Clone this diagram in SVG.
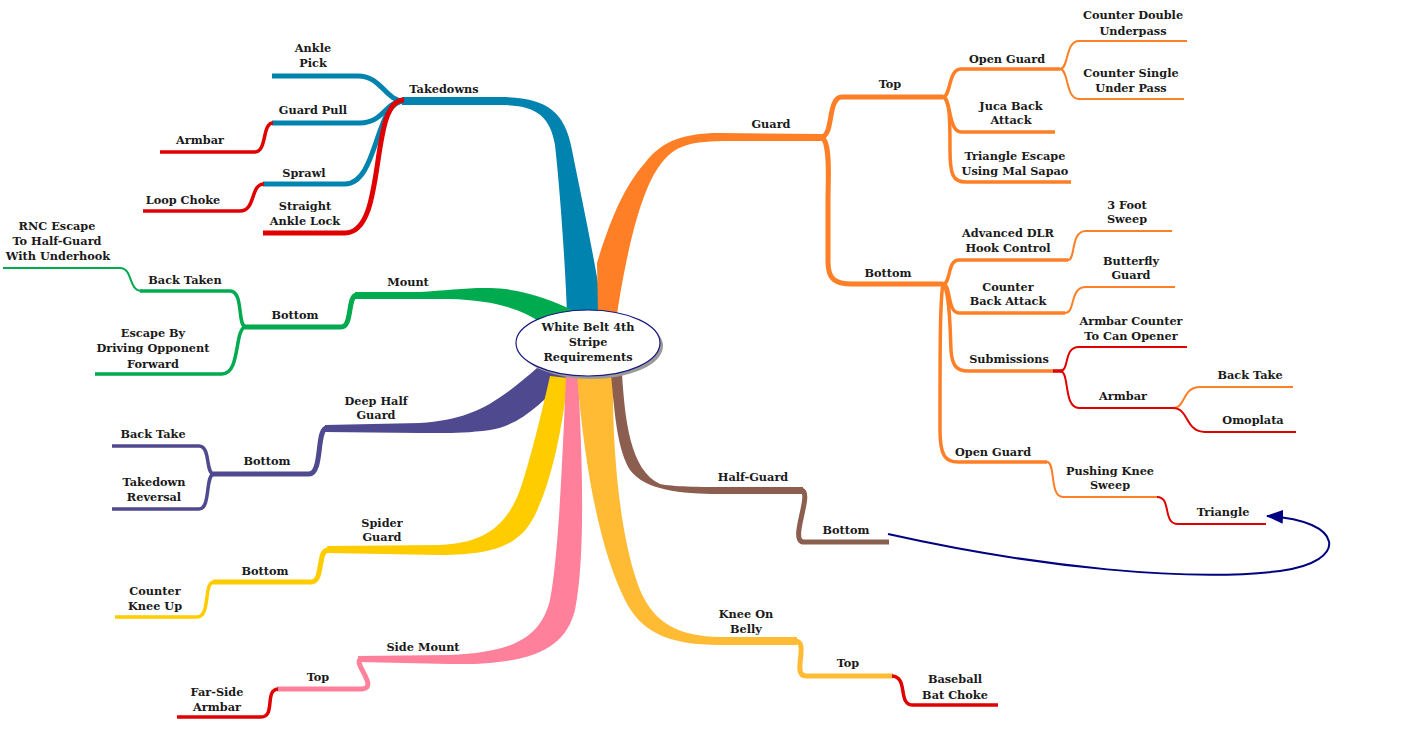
<svg xmlns="http://www.w3.org/2000/svg" width="1415" height="729" viewBox="0 0 1415 729">
<style>
.t{font-family:"DejaVu Serif","Liberation Serif",serif;font-weight:bold;font-size:11.3px;fill:#1a1a1a;text-anchor:middle}
.c{fill:none;stroke-linecap:butt;stroke-linejoin:round}
.w5{stroke-width:5}.w3{stroke-width:3.5}.w2{stroke-width:2}
.blue{stroke:#0083AE}.org{stroke:#FF7F27}.grn{stroke:#00AA4F}.pur{stroke:#4F4A8F}
.yel{stroke:#FFCC00}.pnk{stroke:#FF809A}.gold{stroke:#FFBB33}.brn{stroke:#8B5E4F}.red{stroke:#E00000}
</style>
<defs>
<marker id="ah" markerWidth="18" markerHeight="14" refX="16" refY="7" orient="auto" markerUnits="userSpaceOnUse">
<path d="M0,0 L17,7 L0,14 Z" fill="#000080"/>
</marker>
</defs>
<rect width="1415" height="729" fill="#ffffff"/>
<g id="connectors">
<!-- main branches -->
<path fill="#0083AE" d="M 402 97 L 500 97 C 545 97 565 110 572 150 C 582 200 595 260 603 314 L 567 314 C 565 260 560 190 555 145 C 550 115 535 105 500 105 L 402 105 Z"/>
<path fill="#FF7F27" d="M 598 314 L 597 263 C 610 220 625 185 645 163 C 660 143 680 133 720 133 L 822 134 L 822 141 L 730 141 C 690 141 675 145 660 165 C 645 185 630 230 617 314 Z"/>
<path fill="#00AA4F" d="M 355 292 L 420 292 C 450 290 480 286 505 289 C 535 293 555 302 577 312 L 540 322 C 520 308 490 300 450 299 L 355 299 Z"/>
<path fill="#4F4A8F" d="M 325 425 L 420 423 C 470 420 495 405 537 368 L 568 376 C 540 405 520 425 490 430 C 460 434 440 433 420 433 L 325 432 Z"/>
<path fill="#FFCC00" d="M 327 546 L 440 545 C 480 543 505 530 520 490 C 530 460 540 420 550 376 L 568 378 C 562 430 552 480 535 515 C 520 545 495 555 440 555 L 327 553 Z"/>
<path fill="#FF809A" d="M 358 656 L 450 655 C 510 652 540 640 550 600 C 558 560 562 470 566 376 L 578 376 C 583 470 585 560 575 610 C 565 650 530 665 450 664 L 358 662 Z"/>
<path fill="#FFBB33" d="M 577 376 L 613 376 C 612 450 620 540 640 590 C 655 625 680 636 720 637 L 797 637 L 797 645 L 720 645 C 665 645 640 630 625 600 C 600 550 585 470 577 376 Z"/>
<path fill="#8B5E4F" d="M 611 374 L 622 374 C 625 420 630 470 660 484 C 680 488 720 487 803 487 L 803 494 L 720 494 C 680 494 645 490 630 470 C 618 450 615 420 611 374 Z"/>
<!-- takedowns -->
<path class="c blue w5" d="M 404 101 C 385 101 382 76 358 76 L 272 76"/>
<path class="c blue w5" d="M 404 101 C 385 101 384 123 360 123 L 272 123"/>
<path class="c blue w5" d="M 404 101 C 375 101 378 184 345 184 L 263 184"/>
<path class="c red w5" d="M 404 100 C 368 100 388 233 345 233 L 263 233"/>
<path class="c red w3" d="M 273 123 C 262 123 267 152 255 152 L 160 152"/>
<path class="c red w3" d="M 264 184 C 250 184 256 211 240 211 L 143 211"/>
<!-- mount -->
<path class="c grn w5" d="M 357 295 C 347 295 353 327 341 327 L 245 327"/>
<path class="c grn w3" d="M 246 327 C 237 327 244 291 230 291 L 140 291"/>
<path class="c grn w2" d="M 142 291 C 128 291 133 268 120 268 L 3 268"/>
<path class="c grn w3" d="M 246 327 C 234 327 241 374 222 374 L 95 374"/>
<!-- deep half -->
<path class="c pur w5" d="M 327 428 C 316 428 323 474 309 474 L 213 474"/>
<path class="c pur w3" d="M 214 474 C 205 474 211 446 199 446 L 112 446"/>
<path class="c pur w3" d="M 214 474 C 205 474 211 509 199 509 L 112 509"/>
<!-- spider -->
<path class="c yel w5" d="M 328 550 C 317 550 324 582 311 582 L 213 582"/>
<path class="c yel w3" d="M 214 582 C 203 582 211 617 197 617 L 115 617"/>
<!-- side mount -->
<path class="c pnk w5" d="M 362 659 C 350 660 380 688 362 689 L 277 689"/>
<path class="c red w3" d="M 278 689 C 264 690 276 717 261 717 L 177 717"/>
<!-- knee on belly -->
<path class="c gold w5" d="M 795 641 C 810 641 791 676 806 676 L 893 676"/>
<path class="c red w3" d="M 892 676 C 909 677 897 705 913 705 L 998 705"/>
<!-- half guard -->
<path class="c brn w5" d="M 801 490 C 814 492 788 542 804 542 L 889 542"/>
<!-- guard -->
<path class="c org w5" d="M 821 137 C 834 137 827 97 842 97 L 943 97"/>
<path class="c org w5" d="M 821 137 C 831 140 828 180 828 200 L 828 262 C 828 279 835 284 852 284 L 943 284"/>
<path class="c org w3" d="M 943 97 C 951 97 948 69 961 69 L 1060 69"/>
<path class="c org w3" d="M 943 97 C 951 97 948 132 961 132 L 1055 132"/>
<path class="c org w3" d="M 943 97 C 950 100 950 120 950 150 C 950 175 953 182 966 182 L 1071 182"/>
<path class="c org w2" d="M 1060 69 C 1069 69 1065 41 1079 41 L 1187 41"/>
<path class="c org w2" d="M 1060 69 C 1069 69 1065 99 1079 99 L 1184 99"/>
<path class="c org w3" d="M 943 284 C 951 284 947 260 959 260 L 1068 260"/>
<path class="c org w3" d="M 943 284 C 951 284 947 313 959 313 L 1065 313"/>
<path class="c org w3" d="M 943 284 C 950 290 950 330 951 350 C 952 366 957 371 968 371 L 1054 371"/>
<path class="c org w3" d="M 943 284 C 940 300 940 350 940 430 C 940 455 945 462 958 462 L 1047 462"/>
<path class="c org w2" d="M 1068 260 C 1076 260 1070 231 1086 231 L 1172 231"/>
<path class="c org w2" d="M 1065 313 C 1076 313 1069 287 1086 287 L 1175 287"/>
<path class="c red w3" d="M 1053 371 L 1062 371"/>
<path class="c red w2" d="M 1060 371 C 1070 371 1063 347 1079 347 L 1187 347"/>
<path class="c red w2" d="M 1060 371 C 1070 371 1063 408 1079 408 L 1173 408"/>
<path class="c org w2" d="M 1173 408 C 1186 408 1182 387 1200 387 L 1293 387"/>
<path class="c red w2" d="M 1173 408 C 1189 408 1185 432 1205 432 L 1296 432"/>
<path class="c org w2" d="M 1047 462 C 1056 462 1049 497 1063 497 L 1158 497"/>
<path class="c red w2" d="M 1157 497 C 1172 497 1162 524 1178 524 L 1266 524"/>
<!-- cross link -->
<path fill="none" stroke="#000080" stroke-width="2" marker-end="url(#ah)" d="M 888 534 C 1040 568 1190 582 1280 571 C 1350 562 1345 520 1267 516"/>
</g>
<g id="center">
<ellipse cx="591" cy="346" rx="72" ry="33" fill="#9a9a9a"/>
<ellipse cx="588" cy="343" rx="72" ry="33" fill="#ffffff" stroke="#1A1A80" stroke-width="1.2"/>
<text class="t" x="588" y="331">White Belt 4th</text>
<text class="t" x="588" y="346">Stripe</text>
<text class="t" x="588" y="361">Requirements</text>
</g>
<g id="takedowns">
<text class="t" x="444" y="93">Takedowns</text>
<text class="t" x="313" y="52">Ankle</text><text class="t" x="313" y="67">Pick</text>
<text class="t" x="313" y="114">Guard Pull</text>
<text class="t" x="200" y="144">Armbar</text>
<text class="t" x="304" y="177">Sprawl</text>
<text class="t" x="183" y="204">Loop Choke</text>
<text class="t" x="305" y="210">Straight</text><text class="t" x="305" y="225">Ankle Lock</text>
</g>
<g id="mount">
<text class="t" x="408" y="286">Mount</text>
<text class="t" x="295" y="319">Bottom</text>
<text class="t" x="185" y="284">Back Taken</text>
<text class="t" x="57" y="230">RNC Escape</text><text class="t" x="57" y="245">To Half-Guard</text><text class="t" x="58" y="260">With Underhook</text>
<text class="t" x="153" y="337">Escape By</text><text class="t" x="153" y="352">Driving Opponent</text><text class="t" x="153" y="368">Forward</text>
</g>
<g id="deephalf">
<text class="t" x="376" y="405">Deep Half</text><text class="t" x="376" y="419">Guard</text>
<text class="t" x="267" y="465">Bottom</text>
<text class="t" x="153" y="438">Back Take</text>
<text class="t" x="154" y="486">Takedown</text><text class="t" x="154" y="501">Reversal</text>
</g>
<g id="spider">
<text class="t" x="382" y="527">Spider</text><text class="t" x="382" y="541">Guard</text>
<text class="t" x="265" y="575">Bottom</text>
<text class="t" x="155" y="595">Counter</text><text class="t" x="155" y="610">Knee Up</text>
</g>
<g id="sidemount">
<text class="t" x="423" y="651">Side Mount</text>
<text class="t" x="318" y="681">Top</text>
<text class="t" x="217" y="696">Far-Side</text><text class="t" x="217" y="711">Armbar</text>
</g>
<g id="kneeonbelly">
<text class="t" x="746" y="618">Knee On</text><text class="t" x="746" y="633">Belly</text>
<text class="t" x="848" y="667">Top</text>
<text class="t" x="955" y="683">Baseball</text><text class="t" x="955" y="699">Bat Choke</text>
</g>
<g id="halfguard">
<text class="t" x="753" y="481">Half-Guard</text>
<text class="t" x="846" y="534">Bottom</text>
</g>
<g id="guard">
<text class="t" x="771" y="128">Guard</text>
<text class="t" x="890" y="88">Top</text>
<text class="t" x="888" y="277">Bottom</text>
<text class="t" x="1007" y="63">Open Guard</text>
<text class="t" x="1133" y="19">Counter Double</text><text class="t" x="1133" y="35">Underpass</text>
<text class="t" x="1131" y="77">Counter Single</text><text class="t" x="1131" y="92">Under Pass</text>
<text class="t" x="1011" y="110">Juca Back</text><text class="t" x="1011" y="124">Attack</text>
<text class="t" x="1015" y="160">Triangle Escape</text><text class="t" x="1015" y="175">Using Mal Sapao</text>
<text class="t" x="1008" y="237">Advanced DLR</text><text class="t" x="1008" y="252">Hook Control</text>
<text class="t" x="1127" y="209">3 Foot</text><text class="t" x="1127" y="223">Sweep</text>
<text class="t" x="1008" y="291">Counter</text><text class="t" x="1008" y="305">Back Attack</text>
<text class="t" x="1131" y="265">Butterfly</text><text class="t" x="1131" y="279">Guard</text>
<text class="t" x="1009" y="363">Submissions</text>
<text class="t" x="1131" y="325">Armbar Counter</text><text class="t" x="1131" y="340">To Can Opener</text>
<text class="t" x="1123" y="400">Armbar</text>
<text class="t" x="1250" y="379">Back Take</text>
<text class="t" x="1253" y="424">Omoplata</text>
<text class="t" x="993" y="456">Open Guard</text>
<text class="t" x="1110" y="475">Pushing Knee</text><text class="t" x="1110" y="489">Sweep</text>
<text class="t" x="1223" y="516">Triangle</text>
</g>
</svg>
